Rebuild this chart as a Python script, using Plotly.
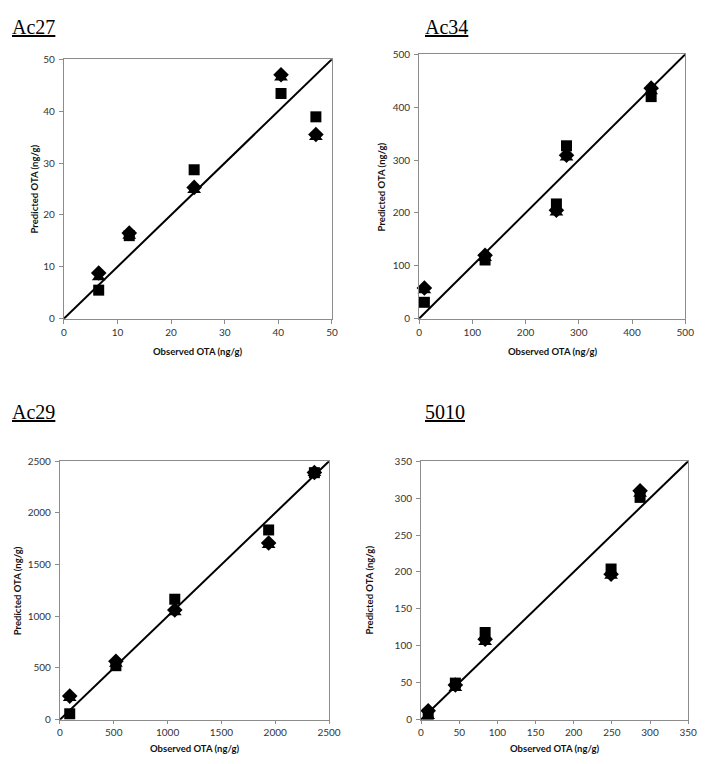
import plotly.graph_objects as go

# ---- data ----
panels = ["Ac27", "Ac34", "Ac29", "5010"]
axis_max = [50, 500, 2500, 350]
tick_step = [10, 100, 500, 50]

ac27_obs = [6.5, 12.2, 24.3, 40.5, 47.0]
ac27_sq = [5.5, 16.0, 28.7, 43.4, 38.9]
ac27_di = [8.8, 16.5, 25.3, 47.0, 35.5]
ac27_tr = [8.0, 16.0, 24.8, 46.5, 35.0]

ac34_obs = [10, 124, 258, 277, 436]
ac34_sq = [31, 111, 217, 327, 420]
ac34_di = [58, 120, 205, 309, 436]
ac34_tr = [54, 115, 201, 305, 430]

ac29_obs = [91, 520, 1067, 1939, 2364]
ac29_sq = [57, 522, 1165, 1835, 2389]
ac29_di = [228, 565, 1060, 1709, 2390]
ac29_tr = [210, 540, 1040, 1690, 2385]

s5010_obs = [9.4, 45, 84, 249, 287]
s5010_sq = [7.5, 49.5, 118, 204, 301]
s5010_di = [12, 47, 109, 197, 310]
s5010_tr = [5, 43, 105, 195, 306]

observed = [ac27_obs, ac34_obs, ac29_obs, s5010_obs]
pred_sq = [ac27_sq, ac34_sq, ac29_sq, s5010_sq]
pred_di = [ac27_di, ac34_di, ac29_di, s5010_di]
pred_tr = [ac27_tr, ac34_tr, ac29_tr, s5010_tr]

# page offset (body margin) compensation
OFF = 8
W, H = 708 - OFF, 764 - OFF
# plot boxes in page pixels (left, right, top, bottom)
boxes = [(62, 336, 53, 317), (425, 697, 48, 317), (58, 333, 462, 725), (427, 700, 462, 725)]
title_left = [2, 431, 2, 431]
title_top = [2, 2, 405, 405]
ytitle_x = [32, 387, 15, 374]
xtitle_y = [350, 350, 754, 754]


def px(x):
    return (x - OFF) / W


def py(y):
    return 1 - (y - OFF) / H


fig = go.Figure()
tickfont = dict(family="Lato, Open Sans, sans-serif", size=10, color="#333333")
axfont = dict(family="Lato, Open Sans, sans-serif", size=9.5, color="#111111")

for i in range(4):
    l, r, t, b = boxes[i]
    xa = "x" if i == 0 else f"x{i+1}"
    ya = "y" if i == 0 else f"y{i+1}"
    m = axis_max[i]
    fig.add_trace(go.Scatter(x=[0, m], y=[0, m], mode="lines", line=dict(color="black", width=2),
                             xaxis=xa, yaxis=ya, showlegend=False, hoverinfo="skip"))
    fig.add_trace(go.Scatter(x=observed[i], y=pred_tr[i], mode="markers",
                             marker=dict(symbol="triangle-up", size=12, color="black"),
                             xaxis=xa, yaxis=ya, showlegend=False, cliponaxis=False))
    fig.add_trace(go.Scatter(x=observed[i], y=pred_di[i], mode="markers",
                             marker=dict(symbol="diamond", size=12, color="black"),
                             xaxis=xa, yaxis=ya, showlegend=False, cliponaxis=False))
    fig.add_trace(go.Scatter(x=observed[i], y=pred_sq[i], mode="markers",
                             marker=dict(symbol="square", size=11, color="black"),
                             xaxis=xa, yaxis=ya, showlegend=False, cliponaxis=False))
    axcommon = dict(range=[0, m], dtick=tick_step[i], tick0=0, showgrid=False, zeroline=False,
                    showline=True, linecolor="#8c8c8c", linewidth=1, mirror=True,
                    ticks="outside", tickcolor="#8c8c8c", tickfont=tickfont)
    fig.layout[("xaxis" if i == 0 else f"xaxis{i+1}")] = dict(
        domain=[px(l), px(r)], anchor=ya, ticklen=4 if i < 2 else 3, **axcommon)
    fig.layout[("yaxis" if i == 0 else f"yaxis{i+1}")] = dict(
        domain=[py(b), py(t)], anchor=xa, ticklen=4, ticklabelstandoff=2, **axcommon)
    # panel title (glyph top sits ~5px below the text box top)
    fig.add_annotation(text=f"<u>{panels[i]}</u>", xref="paper", yref="paper",
                       x=max(px(title_left[i] - 1), 0), y=min(py(title_top[i] - 5), 1),
                       xanchor="left", yanchor="top", showarrow=False, borderpad=0,
                       font=dict(family="Liberation Serif, Times New Roman, serif", size=20, color="black"))
    # axis titles
    fig.add_annotation(text="<b>Observed OTA (ng/g)</b>", xref="paper", yref="paper",
                       x=px((l + r) / 2), y=py(xtitle_y[i]), xanchor="center", yanchor="middle",
                       showarrow=False, font=axfont)
    fig.add_annotation(text="<b>Predicted OTA (ng/g)</b>", xref="paper", yref="paper",
                       x=px(ytitle_x[i]), y=py((t + b) / 2), xanchor="center", yanchor="middle",
                       textangle=-90, showarrow=False, font=axfont)

fig.update_layout(width=W, height=H, margin=dict(l=0, r=0, t=0, b=0),
                  paper_bgcolor="white", plot_bgcolor="white")
fig.write_html("out.html")
